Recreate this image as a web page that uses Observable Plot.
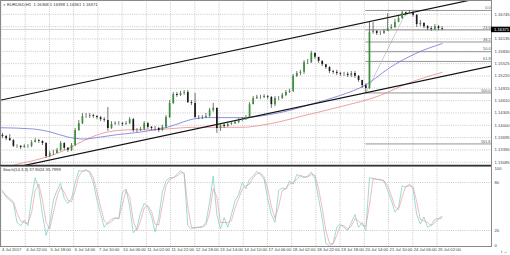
<!DOCTYPE html>
<html><head><meta charset="utf-8">
<script src="https://cdn.jsdelivr.net/npm/d3@7"></script>
<script src="https://cdn.jsdelivr.net/npm/@observablehq/plot@0.6"></script>
<style>
html,body{margin:0;padding:0;background:#fff;overflow:hidden;}
#chart svg{display:block;overflow:visible;}
</style></head><body><div id="chart"></div>
<script>
const title = "EURUSD,H1  1.16368 1.16398 1.16361 1.16371";
const stochTitle = "Stoch(14,3,3) 37.9024 35.7999";
const timeTicks = [0,20,40,60,80,100,120,140,160,180,200,220,240,260,280,300,320,340,360];
const timeLabels = ["4 Jul 2017","4 Jul 22:00","5 Jul 18:00","6 Jul 14:00","7 Jul 10:00","10 Jul 06:00","11 Jul 02:00","11 Jul 22:00","12 Jul 18:00","13 Jul 14:00","14 Jul 10:00","17 Jul 06:00","18 Jul 02:00","18 Jul 22:00","19 Jul 18:00","20 Jul 14:00","21 Jul 10:00","24 Jul 06:00","25 Jul 02:00"];
const priceTicks = [1.13085,1.13390,1.13695,1.14000,1.14305,1.14610,1.14915,1.15220,1.15525,1.15830,1.16135,1.16440,1.16745];
// the 1.16440 label sits behind the current-price box in the reference
const hiddenPriceTick = 1.16440;

// candles: one every 3 hourly bars
const candleStep = 3;
const firstOpen = 1.1375;
const close = [1.1372,1.1367,1.1362,1.1348,1.1348,1.1345,1.1348,1.1348,1.1357,1.1362,
 1.1360,1.1355,1.1323,1.1330,1.1330,1.1338,1.1355,1.1343,1.1338,1.1350,
 1.1387,1.1404,1.1422,1.1422,1.1424,1.1422,1.1419,1.1414,1.1412,1.1392,
 1.1402,1.1404,1.1404,1.1402,1.1404,1.1414,1.1387,1.1387,1.1390,1.1404,
 1.1395,1.1392,1.1392,1.1387,1.1395,1.1419,1.1454,1.1476,1.1474,1.1479,
 1.1481,1.1456,1.1454,1.1419,1.1419,1.1419,1.1422,1.1437,1.1442,1.1392,
 1.1400,1.1397,1.1402,1.1404,1.1407,1.1412,1.1414,1.1419,1.1451,1.1466,
 1.1469,1.1469,1.1471,1.1469,1.1451,1.1466,1.1466,1.1474,1.1481,1.1484,
 1.1521,1.1528,1.1531,1.1555,1.1555,1.1578,1.1568,1.1558,1.1550,1.1543,
 1.1533,1.1531,1.1528,1.1526,1.1526,1.1523,1.1528,1.1521,1.1511,1.1498,
 1.1491,1.1630,1.1632,1.1627,1.1627,1.1632,1.1639,1.1642,1.1654,1.1664,
 1.1678,1.1674,1.1679,1.1672,1.1649,1.1652,1.1644,1.1639,1.1637,1.1644,
 1.1639,1.16371];
const high = [1.1380,1.1375,1.1377,1.1365,1.1352,1.1350,1.1352,1.1352,1.1362,1.1367,
 1.1365,1.1362,1.1357,1.1335,1.1338,1.1343,1.1360,1.1357,1.1345,1.1355,
 1.1392,1.1412,1.1429,1.1429,1.1429,1.1427,1.1424,1.1422,1.1419,1.1444,
 1.1409,1.1409,1.1409,1.1407,1.1409,1.1419,1.1417,1.1392,1.1395,1.1409,
 1.1407,1.1397,1.1397,1.1395,1.1400,1.1424,1.1461,1.1481,1.1481,1.1484,
 1.1486,1.1486,1.1461,1.1479,1.1424,1.1424,1.1429,1.1442,1.1454,1.1442,
 1.1404,1.1404,1.1407,1.1409,1.1412,1.1417,1.1419,1.1424,1.1456,1.1471,
 1.1474,1.1474,1.1476,1.1474,1.1471,1.1471,1.1471,1.1479,1.1486,1.1489,
 1.1526,1.1533,1.1536,1.1560,1.1563,1.1583,1.1578,1.1568,1.1560,1.1550,
 1.1545,1.1536,1.1536,1.1531,1.1531,1.1531,1.1533,1.1533,1.1523,1.1511,
 1.1503,1.1654,1.1654,1.1634,1.1632,1.1637,1.1676,1.1649,1.1662,1.1669,
 1.1682,1.1680,1.1684,1.1681,1.1674,1.1659,1.1654,1.1647,1.1644,1.1649,
 1.1647,1.1644];
const low = [1.1367,1.1362,1.1360,1.1345,1.1343,1.1340,1.1343,1.1343,1.1345,1.1357,
 1.1355,1.1350,1.1318,1.1320,1.1325,1.1330,1.1335,1.1338,1.1333,1.1335,
 1.1348,1.1385,1.1402,1.1417,1.1417,1.1417,1.1414,1.1409,1.1407,1.1385,
 1.1390,1.1400,1.1400,1.1397,1.1400,1.1402,1.1382,1.1382,1.1385,1.1387,
 1.1390,1.1387,1.1385,1.1382,1.1385,1.1392,1.1417,1.1451,1.1469,1.1471,
 1.1474,1.1454,1.1449,1.1417,1.1414,1.1414,1.1417,1.1419,1.1432,1.1380,
 1.1385,1.1392,1.1395,1.1400,1.1402,1.1404,1.1409,1.1412,1.1417,1.1451,
 1.1464,1.1464,1.1466,1.1464,1.1442,1.1446,1.1461,1.1464,1.1471,1.1479,
 1.1481,1.1518,1.1523,1.1526,1.1550,1.1553,1.1563,1.1553,1.1545,1.1538,
 1.1528,1.1526,1.1523,1.1521,1.1521,1.1518,1.1518,1.1516,1.1506,1.1491,
 1.1481,1.1489,1.1625,1.1622,1.1622,1.1625,1.1632,1.1637,1.1639,1.1654,
 1.1662,1.1670,1.1674,1.1667,1.1642,1.1644,1.1639,1.1634,1.1632,1.1634,
 1.1634,1.1634];

const stochK = [70,62,58,54,30,26,33,26,60,86,72,40,14,28,58,70,79,60,54,60,
 80,95,94,96,92,80,58,41,24,30,34,36,35,68,72,50,17,23,42,54,
 49,38,18,36,68,82,86,86,90,95,90,26,22,24,24,25,30,55,88,40,
 22,36,24,40,57,65,80,72,84,88,94,90,84,60,40,30,70,73,72,82,
 78,90,88,86,88,93,85,60,35,4,1,4,24,28,24,20,30,40,24,30,
 20,86,85,84,83,82,70,58,43,49,76,74,78,72,40,28,37,24,27,34,
 35,37.9];
const stochD = [68,64,60,56,42,32,30,29,42,70,78,58,30,22,42,62,74,68,58,56,
 70,88,94,95,94,86,68,50,32,28,31,35,35,52,70,62,32,20,32,48,
 51,44,28,27,52,76,84,86,88,92,92,50,24,23,24,24,27,42,72,62,
 30,30,30,32,48,60,72,76,78,86,91,92,87,72,50,35,50,70,72,78,
 80,84,89,87,87,90,89,72,48,20,4,3,14,26,26,22,25,35,32,27,
 25,52,85,84,84,82,76,64,50,46,62,75,76,75,56,34,32,30,26,30,
 34,35.8];
const stochLevels = [20, 80];

const maBlueTime = [-2,25,40,54,67,81,95,108,122,136,149,158,169,197,230,257,279,300,320,343,363];
const maBlue = [1.1394,1.1391,1.1383,1.1371,1.1366,1.1371,1.1377,1.1381,1.1387,1.1395,1.1408,1.1416,1.1419,1.1419,1.1432,1.1454,1.1474,1.1500,1.1543,1.1580,1.1602];
const maRedTime = [-2,9,26,40,54,67,81,95,108,122,136,149,163,197,221,249,279,312,334,363];
const maRed = [1.1288,1.1301,1.1313,1.1325,1.1342,1.1362,1.1379,1.1387,1.1389,1.1389,1.1391,1.1394,1.1395,1.1395,1.1404,1.1424,1.1446,1.1474,1.1503,1.1531];

const channelTime = [-2, 404];
const channelUpper = [1.1462, 1.1721];
const channelLower = [1.1288, 1.1547];

const fibHigh = 1.1684, fibLow = 1.1480, fibLowTime = 300, fibHighTime = 334;
const fibRatios = [0, 0.236, 0.382, 0.5, 0.618, 1, 1.618];
const fibLabels = ["0.0","23.6","38.2","50.0","61.8","100.0","161.8"];
const bid = 1.16371;

// ---- build tables ----
const candles = close.map((c, k) => {
  const o = k === 0 ? firstOpen : close[k - 1];
  return {t: k * candleStep, open: o, close: c, high: Math.max(high[k], o, c), low: Math.min(low[k], o, c)};
});
const stoch = stochK.map((v, k) => ({t: k * candleStep, k: v, d: stochD[k]}));
const blue = maBlueTime.map((t, i) => ({t, v: maBlue[i]}));
const red = maRedTime.map((t, i) => ({t, v: maRed[i]}));
const upper = channelTime.map((t, i) => ({t, v: channelUpper[i]}));
const lower = channelTime.map((t, i) => ({t, v: channelLower[i]}));
const fib = fibRatios.map((r, i) => ({price: fibHigh - r * (fibHigh - fibLow), label: fibLabels[i]}));
const fibDiag = [{t: fibLowTime, v: fibLow}, {t: fibHighTime, v: fibHigh}];
const shownPriceTicks = priceTicks.filter(d => d !== hiddenPriceTick);

const W = 510;
const xDomain = [-1.651, 403.76];
const pxPerBar = 491 / (xDomain[1] - xDomain[0]);
const yDomain = [1.130058, 1.170863];
const font = "Liberation Sans, DejaVu Sans, sans-serif";
const gridColor = "#c8c8c8";
const fs = 4.2;
const green = "#3a8f3a";

const main = Plot.plot({
  width: W, height: 166,
  marginLeft: 0, marginRight: 19, marginTop: 0, marginBottom: 1,
  style: {fontFamily: font, background: "#fff"},
  x: {domain: xDomain, axis: null},
  y: {domain: yDomain, axis: null},
  color: {type: "identity"},
  marks: [
    Plot.gridX(timeTicks, {stroke: gridColor, strokeOpacity: 1, strokeDasharray: "1,1.2", dx: -1.5}),
    Plot.gridY(priceTicks, {stroke: gridColor, strokeOpacity: 1, strokeDasharray: "1,1.2"}),
    Plot.ruleY([bid], {stroke: "#c8c8c8", strokeWidth: 0.8}),
    Plot.ruleY(fib, {y: "price", x1: fibLowTime, x2: xDomain[1], stroke: "#8a8a8a", strokeWidth: 0.9}),
    Plot.text(fib, {y: "price", text: "label", frameAnchor: "right", textAnchor: "end", dx: -1, dy: -2.6, fontSize: 3.8, fill: "#555"}),
    Plot.line(fibDiag, {x: "t", y: "v", stroke: "#999", strokeWidth: 0.6, strokeDasharray: "1,1.3"}),
    Plot.line(red, {x: "t", y: "v", stroke: "#e88a8a", strokeWidth: 0.8, curve: "monotone-x", clip: true}),
    Plot.line(blue, {x: "t", y: "v", stroke: "#7474dc", strokeWidth: 0.8, curve: "monotone-x", clip: true}),
    Plot.line(upper, {x: "t", y: "v", stroke: "#111", strokeWidth: 1.2, clip: true}),
    Plot.line(lower, {x: "t", y: "v", stroke: "#111", strokeWidth: 1.2, clip: true}),
    Plot.ruleX(candles, {x: "t", y1: "low", y2: "high", stroke: "#3a3a3a", strokeWidth: 0.7}),
    Plot.ruleX(candles, {x: "t", y1: "open", y2: "close", stroke: d => d.close >= d.open ? green : "#1a1a1a", strokeWidth: 1.7}),
    Plot.frame({stroke: "#8a8a8a", strokeWidth: 1}),
    Plot.ruleY([yDomain[0]], {stroke: "#333", strokeWidth: 1.6}),
    Plot.axisY(shownPriceTicks, {anchor: "right", tickSize: 0, tickPadding: 3, tickFormat: d => d.toFixed(5), fontSize: fs, fill: "#444"}),
    Plot.ruleY([bid], {x1: xDomain[1], x2: xDomain[1] + 19 / pxPerBar, stroke: "#000", strokeWidth: 5.5}),
    Plot.text([bid], {y: d => d, frameAnchor: "right", textAnchor: "start", dx: 2.5, text: d => d.toFixed(5), fill: "#fff", fontSize: fs}),
    Plot.text(["▼"], {frameAnchor: "top-left", dx: 2.5, dy: 3.2, text: d => d, fontSize: 2.6, fill: "#333"}),
    Plot.text([title], {frameAnchor: "top-left", dx: 6.5, dy: 2.2, text: d => d, fontSize: fs, fill: "#333"})
  ]
});

const sub = Plot.plot({
  width: W, height: 89,
  marginLeft: 0, marginRight: 19, marginTop: 0, marginBottom: 9,
  style: {fontFamily: font, background: "#fff"},
  x: {domain: xDomain, axis: null},
  y: {domain: [0, 100], axis: null},
  marks: [
    Plot.gridX(timeTicks, {stroke: gridColor, strokeOpacity: 1, strokeDasharray: "1,1.2", dx: -1.5}),
    Plot.ruleY(stochLevels, {stroke: gridColor, strokeDasharray: "1,1.2"}),
    Plot.line(stoch, {x: "t", y: "k", stroke: "#7ccfc8", strokeWidth: 0.75}),
    Plot.line(stoch, {x: "t", y: "d", stroke: "#e89090", strokeWidth: 0.7, strokeDasharray: "1,1"}),
    Plot.frame({stroke: "#8a8a8a", strokeWidth: 1}),
    Plot.axisY(stochLevels, {anchor: "right", tickSize: 0, tickPadding: 3, fontSize: fs, fill: "#444"}),
    Plot.text([100], {y: d => d, frameAnchor: "right", textAnchor: "start", dx: 3, dy: 2.2, text: d => String(d), fontSize: fs, fill: "#444"}),
    Plot.text([0], {y: d => d, frameAnchor: "right", textAnchor: "start", dx: 3, dy: -1.2, text: d => String(d), fontSize: fs, fill: "#444"}),
    Plot.axisX(timeTicks, {anchor: "bottom", tickSize: 0, tickPadding: 1.8, tickFormat: d => timeLabels[timeTicks.indexOf(d)], textAnchor: "start", dx: -0.5, fontSize: fs, fill: "#444"}),
    Plot.text([stochTitle], {frameAnchor: "top-left", dx: 2.5, dy: 1.6, text: d => d, fontSize: fs, fill: "#333"})
  ]
});

const el = document.getElementById("chart");
el.appendChild(main);
el.appendChild(sub);
</script>
</body></html>
